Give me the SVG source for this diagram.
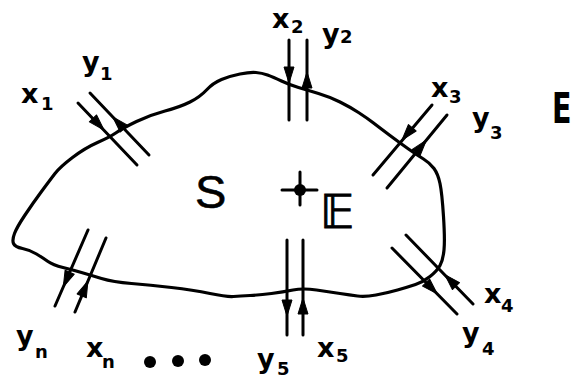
<svg xmlns="http://www.w3.org/2000/svg" xmlns:xlink="http://www.w3.org/1999/xlink" width="576" height="379" viewBox="0 0 576 379">
<style>
.ln{stroke:#000;stroke-width:3;stroke-linecap:round;fill:none}
.ol{stroke:#000;stroke-width:3.2;fill:none;stroke-linejoin:round}
.lb{font-family:"DejaVu Sans",sans-serif;font-weight:bold;font-size:27px;fill:#000}
.sb{font-size:18px}
</style>
<defs>
<path id="ah" d="M0,0 L-16,-5 L-16,5 Z" fill="#000" stroke="#000" stroke-width="1" stroke-linejoin="round"/>
</defs>
<rect width="576" height="379" fill="#fff"/>
<g id="system">
<path class="ol" d="M13.5,243.5 Q12,240 14.5,233.5 Q17,227 25,215 Q33,203 41.5,191.5 Q50,180 55,173.5 Q60,167 72.5,157.5 Q85,148 97.5,142.5 Q110,137 116.5,132.5 Q123,128 136.5,121.5 Q150,115 165,111 Q180,107 190,102 Q200,97 206.5,90 Q213,83 221.5,79.5 Q230,76 240,74 Q250,72 256,72.5 Q262,73 267.5,75 Q273,77 281.5,81 Q290,85 298.5,87.5 Q307,90 318.5,93.5 Q330,97 340,102 Q350,107 358.5,112.5 Q367,118 373.5,123 Q380,128 390,135.5 Q400,143 408.5,149 Q417,155 423.5,159 Q430,163 434,168.5 Q438,174 440,183.5 Q442,193 443.5,216.5 Q445,240 444,250 Q443,260 440,265.5 Q437,271 430,276.5 Q423,282 415.5,284.5 Q408,287 397.5,290 Q387,293 376,295 Q365,297 357.5,296 Q350,295 340,293.5 Q330,292 316.5,290 Q303,288 293,290 Q283,292 271.5,293.5 Q260,295 250,295.5 Q240,296 233.5,296.5 Q227,297 210,293.5 Q193,290 171.5,287.5 Q150,285 131.5,283.5 Q113,282 101.5,278.5 Q90,275 81.5,272.5 Q73,270 63,267.5 Q53,265 48,261.5 Q43,258 36.5,254 Q30,250 22.5,248.5 Q15,247 13.5,243.5 Z"/>
<text x="195" y="208" font-family="'Liberation Sans',sans-serif" font-size="47" stroke="#000" stroke-width="0.6">S</text>
</g>
<g id="env-point">
<line class="ln" x1="282" y1="190" x2="317" y2="190"/>
<line class="ln" x1="300" y1="172" x2="300" y2="205"/>
<circle cx="300" cy="190" r="6" fill="#000"/>
<text x="320" y="228" font-family="'DejaVu Sans',sans-serif" font-size="47" stroke="#000" stroke-width="0.9">𝔼</text>
</g>
<g id="env-label">
<text transform="translate(552,123) scale(0.68,1)" font-family="'DejaVu Sans',sans-serif" font-weight="bold" font-size="42">E</text>
</g>
<g id="connectors">
<line class="ln" x1="78" y1="103" x2="137" y2="165"/>
<line class="ln" x1="90" y1="93" x2="149" y2="155"/>
<line class="ln" x1="289" y1="40" x2="289" y2="120"/>
<line class="ln" x1="307" y1="40" x2="307" y2="120"/>
<line class="ln" x1="432" y1="105" x2="373" y2="175"/>
<line class="ln" x1="447" y1="115" x2="387" y2="188"/>
<line class="ln" x1="392" y1="248" x2="457" y2="314"/>
<line class="ln" x1="406" y1="235" x2="473" y2="304"/>
<line class="ln" x1="287" y1="240" x2="287" y2="335"/>
<line class="ln" x1="303" y1="240" x2="303" y2="335"/>
<line class="ln" x1="88" y1="230" x2="55" y2="306"/>
<line class="ln" x1="106" y1="238" x2="75" y2="312"/>
<use xlink:href="#ah" transform="translate(104,130) rotate(46.4)"/>
<use xlink:href="#ah" transform="translate(112.8,117) rotate(226.4)"/>
<use xlink:href="#ah" transform="translate(289,83) rotate(90)"/>
<use xlink:href="#ah" transform="translate(307,72) rotate(-90)"/>
<use xlink:href="#ah" transform="translate(402,140) rotate(130)"/>
<use xlink:href="#ah" transform="translate(426.3,140.2) rotate(-50.6)"/>
<use xlink:href="#ah" transform="translate(444.8,274.6) rotate(225.8)"/>
<use xlink:href="#ah" transform="translate(437.3,293.9) rotate(45.4)"/>
<use xlink:href="#ah" transform="translate(287,316) rotate(90)"/>
<use xlink:href="#ah" transform="translate(303,298) rotate(-90)"/>
<use xlink:href="#ah" transform="translate(63.3,286.9) rotate(113.5)"/>
<use xlink:href="#ah" transform="translate(87.9,281.1) rotate(-67.3)"/>
</g>
<g id="labels">
<text class="lb" x="21" y="103">x<tspan class="sb" x="41" y="110">1</tspan></text>
<text class="lb" x="82" y="71">y<tspan class="sb" x="100" y="80">1</tspan></text>
<text class="lb" x="272" y="28">x<tspan class="sb" x="291" y="33">2</tspan></text>
<text class="lb" x="322" y="43">y<tspan class="sb" x="340" y="43">2</tspan></text>
<text class="lb" x="431" y="97">x<tspan class="sb" x="449" y="103">3</tspan></text>
<text class="lb" x="472" y="127">y<tspan class="sb" x="490" y="139">3</tspan></text>
<text class="lb" x="484" y="303">x<tspan class="sb" x="501" y="312">4</tspan></text>
<text class="lb" x="462" y="342">y<tspan class="sb" x="482" y="355">4</tspan></text>
<text class="lb" x="317" y="357">x<tspan class="sb" x="336" y="362">5</tspan></text>
<text class="lb" x="257" y="368">y<tspan class="sb" x="277" y="375">5</tspan></text>
<text class="lb" x="16" y="345">y<tspan class="sb" x="35" y="358">n</tspan></text>
<text class="lb" x="86" y="357">x<tspan class="sb" x="102" y="368">n</tspan></text>
<circle cx="150" cy="362" r="6" fill="#000"/>
<circle cx="178" cy="361" r="6" fill="#000"/>
<circle cx="205" cy="360" r="6" fill="#000"/>
</g>
</svg>
